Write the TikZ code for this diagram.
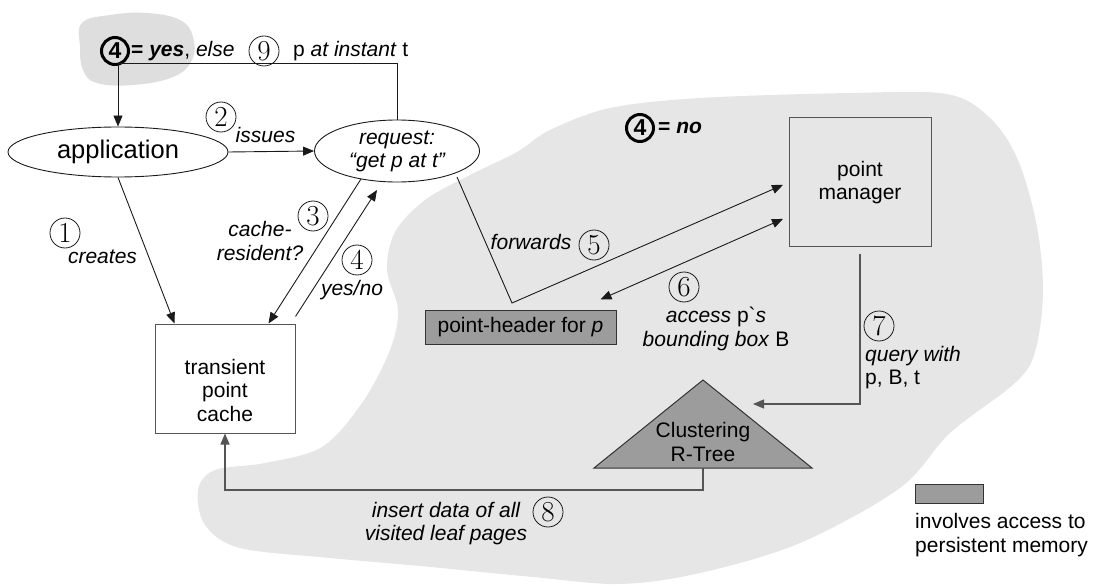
\documentclass[tikz,border=0pt]{standalone}
\usepackage{fontspec}
\setmainfont{Liberation Sans}
\newfontfamily\lmr{Latin Modern Roman}
\usetikzlibrary{shapes.geometric,arrows.meta,calc}
\definecolor{blobc}{HTML}{E6E6E6}
\definecolor{blobd}{HTML}{DEDEDE}
\definecolor{pers}{HTML}{9C9C9C}
\definecolor{ln}{HTML}{1A1A1A}
\definecolor{gln}{HTML}{555555}
\begin{document}
\begin{tikzpicture}[x=1pt,y=-1pt,
  font=\fontsize{21}{23.5}\selectfont,
  arr/.style={-{Triangle[length=11pt,width=9pt]}, line width=0.9pt, draw=ln},
  darr/.style={{Triangle[length=11pt,width=9pt]}-{Triangle[length=11pt,width=9pt]}, line width=0.9pt, draw=ln},
  gline/.style={draw=gln, line width=1.3pt},
  num/.style={circle, draw=ln, line width=0.8pt, minimum size=30pt, inner sep=0pt, font=\lmr\fontsize{29}{29}\selectfont},
  bnum/.style={circle, draw=black, line width=3pt, minimum size=27pt, inner sep=0pt, font=\bfseries\fontsize{23}{23}\selectfont},
  lbl/.style={inner sep=0pt, align=center, font=\itshape\fontsize{21}{23.5}\selectfont},
  boxn/.style={draw=gln, line width=1pt, inner sep=0pt, align=center},
  pbox/.style={draw=black!80, line width=1pt, fill=pers, inner sep=0pt}
  ]
\useasboundingbox (0,0) rectangle (1095,588);

% background blobs
\fill[blobd] plot[smooth cycle, tension=0.7] coordinates {(82,23) (110,15) (147,13) (180,20) (193,37) (192,60) (173,77) (133,85) (97,83) (83,70) (80,47)};
\fill[blobc] plot[smooth cycle, tension=0.55] coordinates {(517,152) (550,130) (610,108) (700,98) (850,93) (947,94) (990,118) (1018,160) (1037,227) (1043,293) (1035,352) (1015,383) (950,433) (900,488) (800,543) (700,573) (620,584) (533,577) (420,566) (330,558) (240,548) (205,525) (198,490) (215,470) (265,463) (322,447) (362,403) (390,350) (398,310) (387,270) (395,232) (425,200) (470,175)};

% top legend line
\node[bnum] (b4a) at (115,51) {4};
\node[anchor=west, inner sep=0pt] (yestxt) at (131,51) {\textbf{= \textit{yes}}, \textit{else}};
\node[num] (n9) at (264,51) {9};
\node[anchor=west, inner sep=0pt] (pattxt) at (293,51) {p \textit{at instant} t};

% main nodes
\node[ellipse, draw=ln, line width=0.9pt, minimum width=220pt, minimum height=50pt, inner sep=0pt, font=\fontsize{25.5}{25.5}\selectfont] (app) at (118,152) {application};
\node[ellipse, draw=ln, line width=0.9pt, minimum width=165pt, minimum height=62pt, inner sep=0pt, align=center, font=\itshape\fontsize{21}{23}\selectfont] (req) at (397,151) {request:\\“get p at t”};
\node[boxn, minimum width=142pt, minimum height=129pt] (pm) at (860,182.5) {point\\manager};
\node[boxn, fill=white, minimum width=140pt, minimum height=109pt] (cache) at (225,378.5) {};
\node[align=center, inner sep=0pt] (cachetxt) at (225,390) {transient\\point\\cache};
\node[pbox, minimum width=191pt, minimum height=34pt] (ph) at (520.5,327) {point-header for \textit{p}};

% R-tree triangle
\coordinate (triA) at (703,380);
\coordinate (triL) at (594,468);
\coordinate (triR) at (812,468);
\coordinate (triB) at (703,468);
\filldraw[fill=pers, draw=black!80, line width=1pt] (triA) -- (triR) -- (triL) -- cycle;
\node[align=center, inner sep=0pt] (rtree) at (703,442) {Clustering\\R-Tree};

% legend
\node[pbox, minimum width=68pt, minimum height=19pt] (leg) at (949,493.5) {};
\node[anchor=west, align=left, inner sep=0pt] (legtxt) at (915,535) {involves access to\\persistent memory};

% connectors
\coordinate (topbend) at (118,63);
\draw[arr] (req.north) |- (topbend) -- (app.north);
\draw[arr] (app.east) -- (req.west);
\draw[arr] (app.south) -- ($(cache.north west)+(20,0)$);
\draw[arr] ($(req.center)+(-36,28)$) -- ($(cache.north west)+(114,0)$);
\draw[arr] ($(cache.north east)+(0,-7)$) -- ($(req.center)+(-20,39)$);
\coordinate (fwdbend) at (512,303);
\draw[arr, shorten >=6pt] ($(req.center)+(60,26)$) -- (fwdbend) -- (pm.west);
\draw[darr, shorten >=6pt] ($(ph.north east)+(-16,-10)$) -- ($(pm.west)+(0,34)$);
\coordinate (qend) at (753,404);
\draw[arr, gline, shorten <=6pt] (pm.south) |- (qend);
\coordinate (insbend) at (703,490);
\draw[arr, gline] (triB) -- (insbend) -| (cache.south);

% labels
\node[num] (n1) at (65,233) {1};
\node[lbl] (l1) at (102.5,257) {creates};
\node[num] (n2) at (221,117) {2};
\node[lbl] (l2) at (265.5,135) {issues};
\node[num] (n3) at (313,216) {3};
\node[lbl] (l3) at (260,241) {cache-\\resident?};
\node[num] (n4) at (357,260) {4};
\node[lbl] (l4) at (352,290) {yes/no};
\node[lbl] (l5) at (531,242) {forwards};
\node[num] (n5) at (594,245) {5};
\node[num] (n6) at (684,287) {6};
\node[lbl] (l6) at (716,329) {access \textup{p\textasciigrave}s\\bounding box \textup{B}};
\node[num] (n7) at (879,326) {7};
\node[lbl, anchor=base west] (l7a) at (865,361) {query with};
\node[anchor=base west, inner sep=0pt] (l7b) at (865,384) {p, B, t};
\node[lbl] (l8) at (446,523.5) {insert data of all\\visited leaf pages};
\node[num] (n8) at (548,512) {8};
\node[bnum] (b4b) at (640,128) {4};
\node[anchor=west, inner sep=0pt] (notxt) at (658,128) {\textbf{= \textit{no}}};
\end{tikzpicture}
\end{document}
